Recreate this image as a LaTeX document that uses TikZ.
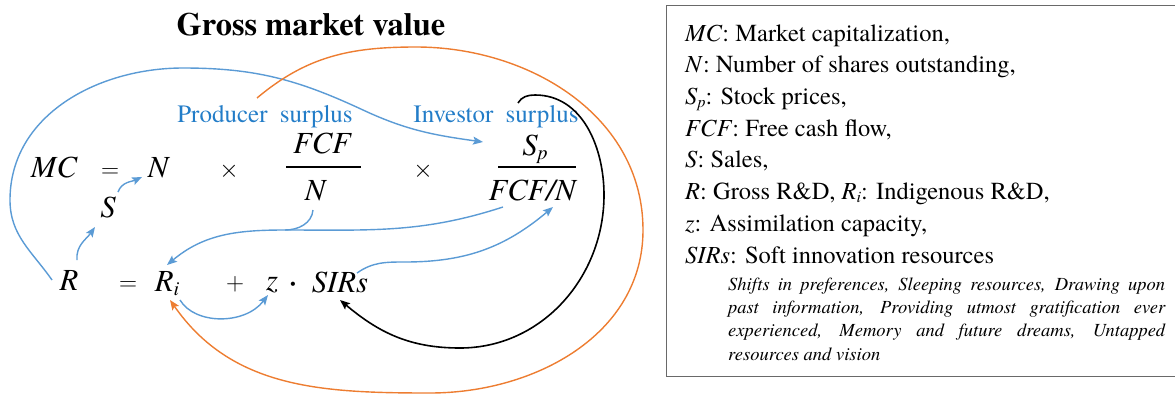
\documentclass[tikz,border=0pt]{standalone}
\usepackage{fix-cm}
\usepackage{fontspec}
\setmainfont{texgyretermes}[Extension=.otf, UprightFont=*-regular, BoldFont=*-bold, ItalicFont=*-italic, BoldItalicFont=*-bolditalic]
\usetikzlibrary{arrows.meta}
\definecolor{lblue}{RGB}{91,155,213}
\definecolor{tblue}{RGB}{35,125,200}
\definecolor{lorange}{RGB}{237,125,49}
\definecolor{boxgray}{RGB}{105,105,105}
\newcommand{\eqsub}[1]{\raisebox{-0.35ex}{\fontsize{20}{20}\selectfont\itshape #1}}
\newcommand{\lgsub}[1]{\raisebox{-0.3ex}{\fontsize{16}{16}\selectfont\itshape #1}}
\begin{document}
\begin{tikzpicture}[x=1pt,y=1pt,
  eqt/.style={inner sep=0pt, anchor=base, font=\fontsize{30.7}{36}\selectfont\itshape},
  opt/.style={inner sep=0pt, anchor=base, font=\fontsize{25}{30}\selectfont},
  lbl/.style={inner sep=0pt, anchor=base, text=tblue, font=\fontsize{25}{30}\selectfont},
  legend/.style={inner sep=0pt, anchor=base west, font=\fontsize{24.5}{30}\selectfont},
  note/.style={inner sep=0pt, anchor=base west, font=\fontsize{18.5}{23}\selectfont\itshape},
  barline/.style={line width=1.2pt},
  bluearrow/.style={draw=lblue, line width=1.4pt, -{Stealth[length=10pt,width=8pt,inset=2pt]}},
  blueline/.style={draw=lblue, line width=1.4pt},
  orangearrow/.style={draw=lorange, line width=1.4pt, -{Stealth[length=10pt,width=8pt,inset=2pt]}},
  blackarrow/.style={draw=black, line width=1.6pt, -{Stealth[length=10pt,width=8pt,inset=2pt]}},
]
\useasboundingbox (0,0) rectangle (1175,-394);

% title
\node[inner sep=0pt, anchor=base, font=\fontsize{32.4}{38}\selectfont\bfseries] (title) at (311,-35) {Gross market value};

% first equation
\node[eqt] (MC) at (54,-177) {MC};
\node[opt] (eqa) at (110,-177) {$=$};
\node[eqt] (N) at (158,-177) {N};
\node[opt] (tma) at (229,-177) {$\times$};
\node[eqt] (FCF) at (322,-153) {FCF};
\node[eqt] (Nd) at (315,-200) {N};
\node[opt] (tmb) at (423,-177) {$\times$};
\node[eqt] (Sp) at (535,-155) {S\eqsub{p}};
\node[eqt] (FCFN) at (532,-200) {FCF/N};
\draw[barline] (286,-167) -- (361,-167);
\draw[barline] (498,-167) -- (576,-167);

\node[eqt] (S) at (108,-217) {S};

% second equation
\node[eqt] (R) at (69,-290) {R};
\node[opt] (eqb) at (128,-290) {$=$};
\node[eqt] (Ri) at (167,-291) {R\eqsub{i}};
\node[opt] (plus) at (235,-290) {$+$};
\node[eqt] (z) at (272,-290) {z};
\node[opt] (dot) at (293,-290) {\textbf{·}};
\node[eqt] (SIRs) at (340,-292) {SIRs};

% labels
\node[lbl] (PS) at (265,-122) {Producer\hspace{6pt} surplus};
\node[lbl] (IS) at (496,-122) {Investor\hspace{6pt} surplus};

% connectors
\draw[bluearrow] ([shift={(8,30)}]R.base) to[out=95,in=235] ([shift={(-13,-10)}]S.base);
\draw[bluearrow] ([shift={(10,25)}]S.base) to[out=70,in=205] ([shift={(-16,0)}]N.base);
\draw[bluearrow] ([shift={(-17,10)}]R.base) to[out=125,in=270] (10,-200)
   to[out=90,in=180] (183,-68) to[out=0,in=155] (363,-110) to[out=-25,in=172] ([shift={(-52,13)}]Sp.base);
\draw[orangearrow] ([shift={(-8,24)}]PS.base) to[out=40,in=180] (416,-47)
   to[out=0,in=90] (643,-230) to[out=-90,in=0] (430,-393) to[out=180,in=-55] ([shift={(3,-9)}]Ri.base);
\draw[blackarrow] ([shift={(22,19)}]IS.base) to[out=60,in=180] (535,-95)
   to[out=0,in=90] (604,-195) to[out=-90,in=0] (460,-348) to[out=180,in=-40] ([shift={(0,-8)}]SIRs.base);
\coordinate (jn) at (285,-230);
\draw[blueline] ([shift={(-2,-10)}]Nd.base) to[out=-95,in=0] (jn);
\draw[bluearrow] ([shift={(-29,-7)}]FCFN.base) to[out=198,in=0] (jn) to[out=180,in=40] ([shift={(0,26)}]Ri.base);
\draw[bluearrow] ([shift={(17,19)}]SIRs.base) to[out=35,in=180] (405,-262) to[out=0,in=220] ([shift={(21,-7)}]FCFN.base);
\draw[bluearrow] ([shift={(13,-9)}]Ri.base) .. controls (195,-325) and (245,-325) .. ([shift={(-4,-5)}]z.base);

% legend box
\draw[boxgray, line width=1pt] (1180,-5) -- (666,-5) -- (666,-376) -- (1180,-376);
\node[legend] (l1) at (685,-41) {\textit{MC}: Market capitalization,};
\node[legend] (l2) at (685,-72.7) {\textit{N}: Number of shares outstanding,};
\node[legend] (l3) at (685,-104.4) {\textit{S}\lgsub{p}: Stock prices,};
\node[legend] (l4) at (685,-136.1) {\textit{FCF}: Free cash flow,};
\node[legend] (l5) at (685,-167.8) {\textit{S}: Sales,};
\node[legend] (l6) at (685,-199.5) {\textit{R}: Gross R\&D, \textit{R}\lgsub{i}: Indigenous R\&D,};
\node[legend] (l7) at (685,-231.2) {\textit{z}: Assimilation capacity,};
\node[legend] (l8) at (685,-263) {\textit{SIRs}: Soft innovation resources};
\node[note] (n1) at (728,-290) {\makebox[437pt][s]{Shifts in preferences, Sleeping resources, Drawing upon}};
\node[note] (n2) at (728,-313.3) {\makebox[437pt][s]{past information, Providing utmost gratification ever}};
\node[note] (n3) at (728,-336.7) {\makebox[437pt][s]{experienced, Memory and future dreams, Untapped}};
\node[note] (n4) at (728,-360) {resources and vision};
\end{tikzpicture}
\end{document}
